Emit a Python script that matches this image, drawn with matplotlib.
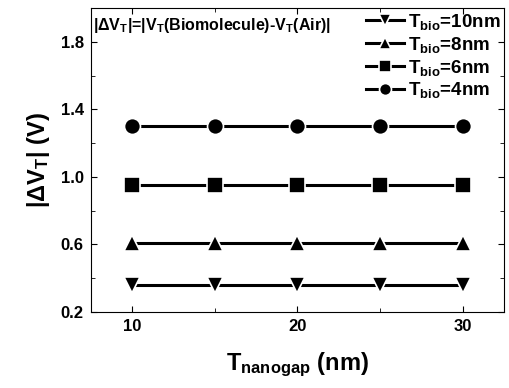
import matplotlib
matplotlib.use("Agg")
import matplotlib.pyplot as plt
import matplotlib.ticker as ticker

plt.rcParams['font.family'] = ['Liberation Sans', 'DejaVu Sans']
plt.rcParams['font.weight'] = 'bold'
plt.rcParams['axes.labelweight'] = 'bold'
plt.rcParams['mathtext.fontset'] = 'custom'
plt.rcParams['mathtext.rm'] = 'Liberation Sans:bold'
plt.rcParams['mathtext.it'] = 'Liberation Sans:bold'
plt.rcParams['mathtext.bf'] = 'Liberation Sans:bold'
plt.rcParams['mathtext.sf'] = 'Liberation Sans:bold'

# данные
t_nanogap = [10, 15, 20, 25, 30]
dvt_10nm = [0.36, 0.36, 0.36, 0.36, 0.36]
dvt_8nm = [0.61, 0.61, 0.61, 0.61, 0.61]
dvt_6nm = [0.95, 0.95, 0.95, 0.95, 0.95]
dvt_4nm = [1.30, 1.30, 1.30, 1.30, 1.30]
labels = [r'T$_{\mathrm{bio}}$=10nm', r'T$_{\mathrm{bio}}$=8nm',
          r'T$_{\mathrm{bio}}$=6nm', r'T$_{\mathrm{bio}}$=4nm']

fig = plt.figure(figsize=(5.1, 3.88), dpi=100)
ax = fig.add_axes([0.178, 0.196, 0.81, 0.783])

series = [dvt_10nm, dvt_8nm, dvt_6nm, dvt_4nm]
markers = ['v', '^', 's', 'o']
for ys, m, lab in zip(series, markers, labels):
    ax.plot(t_nanogap, ys, color='black', linewidth=2.2, marker=m,
            markersize=11.5, markeredgecolor='white', markeredgewidth=1.2,
            markerfacecolor='black', label=lab)

ax.set_xlim(7.5, 32.5)
ax.set_ylim(0.2, 2.0)
ax.xaxis.set_major_locator(ticker.MultipleLocator(10))
ax.xaxis.set_minor_locator(ticker.MultipleLocator(5))
ax.yaxis.set_major_locator(ticker.FixedLocator([0.2, 0.6, 1.0, 1.4, 1.8]))
ax.yaxis.set_minor_locator(ticker.FixedLocator([0.4, 0.8, 1.2, 1.6]))
ax.tick_params(which='both', direction='in', top=True, right=True, labelsize=12)
ax.tick_params(which='major', length=4, pad=5)
ax.tick_params(which='minor', length=3)

ax.set_xlabel(r'T$_{\mathrm{nanogap}}$ (nm)', fontsize=17, labelpad=12)
ax.set_ylabel(r'|$\mathbf{\Delta}$V$_{\mathrm{T}}$| (V)', fontsize=17, labelpad=6)

ax.text(0.005, 0.975, r'|$\Delta$V$_{\mathrm{T}}$|=|V$_{\mathrm{T}}$(Biomolecule)-V$_{\mathrm{T}}$(Air)|',
        transform=ax.transAxes, fontsize=11.5, va='top', ha='left')

ax.legend(loc='upper right', frameon=False, fontsize=13.5, handlelength=2.0,
          handletextpad=0.2, labelspacing=0.15, borderaxespad=0.0,
          borderpad=0.2, markerscale=0.75)

fig.savefig('out.png', dpi=100)
